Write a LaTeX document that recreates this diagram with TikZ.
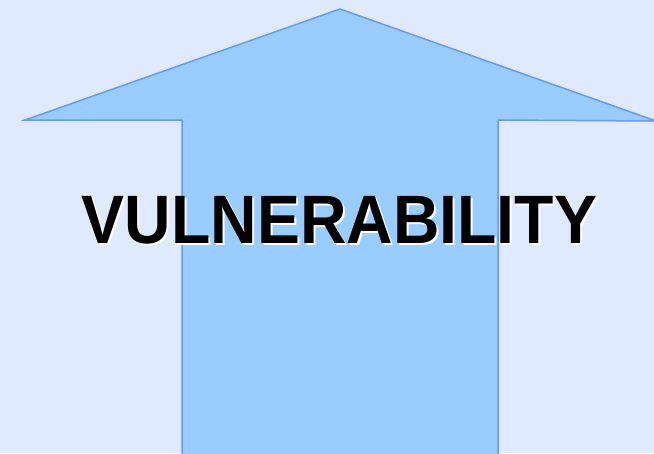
\documentclass[tikz,border=0pt]{standalone}
\usepackage{fontspec}
\setmainfont{Liberation Sans}
\definecolor{bgblue}{HTML}{DFEAFF}
\definecolor{arrowfill}{HTML}{99CCFF}
\definecolor{arrowline}{HTML}{6699FF}
\begin{document}
\begin{tikzpicture}[x=1pt,y=-1pt,
  bigarrow/.style={fill=arrowfill,draw=arrowline,line width=1.5pt,line join=miter},
  label/.style={font=\fontsize{68.5}{70}\selectfont\bfseries,inner sep=0pt,xscale=0.94}]
\fill[bgblue] (0,0) rectangle (654,453);
\useasboundingbox (0,0) rectangle (654,453);
\draw[bigarrow] (182,460) -- (182,120) -- (25,120) -- (340,9) -- (656,121) -- (498,120) -- (498,460);
\node[label,text=white] (shadow) at (341.5,222.5) {VULNERABILITY};
\node[label,text=black] (title) at (339.5,220.5) {VULNERABILITY};
\end{tikzpicture}
\end{document}
